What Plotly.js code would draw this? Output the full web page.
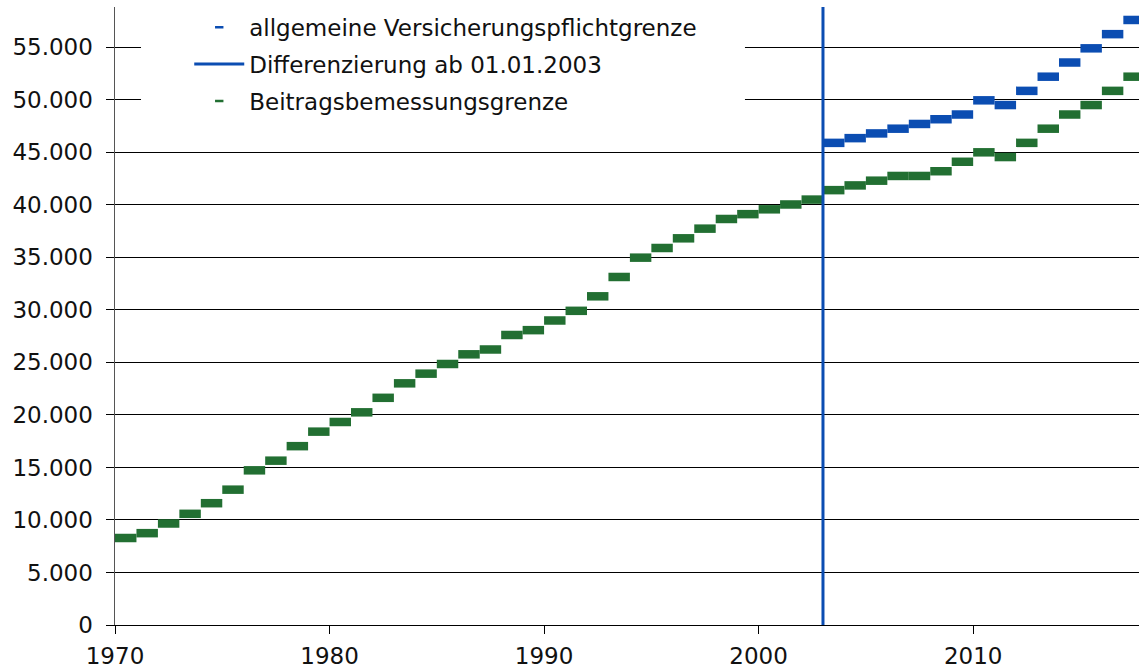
<!DOCTYPE html>
<html>
<head>
<meta charset="utf-8">
<script src="https://cdn.plot.ly/plotly-3.0.1.min.js"></script>
<style>html,body{margin:0;padding:0;background:#fff;}#chart{width:1139px;height:672px;}</style>
</head>
<body>
<div id="chart"></div>
<script>
// Jahre (Beitragsbemessungsgrenze, 1970-2017)
const jahreBBG = [1970,1971,1972,1973,1974,1975,1976,1977,1978,1979,1980,1981,1982,1983,1984,1985,1986,1987,1988,1989,1990,1991,1992,1993,1994,1995,1996,1997,1998,1999,2000,2001,2002,2003,2004,2005,2006,2007,2008,2009,2010,2011,2012,2013,2014,2015,2016,2017];
// Beitragsbemessungsgrenze in Euro pro Jahr
const beitragsbemessungsgrenze = [8283,8743,9663,10584,11596,12885,14725,15645,17026,18407,19327,20247,21628,23008,23928,24849,25769,26229,27610,28070,28990,29910,31291,33132,34972,35892,36813,37733,38654,39114,39574,40034,40500,41400,41850,42300,42750,42750,43200,44100,45000,44550,45900,47250,48600,49500,50850,52200];
// Jahre (allgemeine Versicherungspflichtgrenze, ab 2003)
const jahreVPG = [2003,2004,2005,2006,2007,2008,2009,2010,2011,2012,2013,2014,2015,2016,2017];
const versicherungspflichtgrenze = [45900,46350,46800,47250,47700,48150,48600,49950,49500,50850,52200,53550,54900,56250,57600];
const differenzierungJahr = 2003;
const yTicks = [0,5000,10000,15000,20000,25000,30000,35000,40000,45000,50000,55000];
const xTicks = [1970,1980,1990,2000,2010];
const yMax = 58835;
const xMin = 1970, xMax = 2017.73;

const blau = '#0b4db2';
const gruen = '#226f32';

function stufen(jahre, werte) {
  const x = [], y = [];
  jahre.forEach((j, i) => { x.push(j, j + 1, null); y.push(werte[i], werte[i], null); });
  return {x, y};
}
const sB = stufen(jahreBBG, beitragsbemessungsgrenze);
const sV = stufen(jahreVPG, versicherungspflichtgrenze);

const traces = [
  {x: sB.x, y: sB.y, mode: 'lines', line: {color: gruen, width: 8.5}, showlegend: false, hoverinfo: 'skip'},
  {x: sV.x, y: sV.y, mode: 'lines', line: {color: blau, width: 8.5}, showlegend: false, hoverinfo: 'skip'},
  {x: [differenzierungJahr, differenzierungJahr], y: [0, yMax], mode: 'lines', line: {color: blau, width: 3}, showlegend: false, hoverinfo: 'skip'},
  {x: [null], y: [null], mode: 'markers', name: 'allgemeine Versicherungspflichtgrenze', legendgroup: 'a', marker: {symbol: 'line-ew', size: 6, color: blau, line: {color: blau, width: 2.5}}},
  {x: [null], y: [null], mode: 'lines', name: 'Differenzierung ab 01.01.2003', legendgroup: 'b', line: {color: blau, width: 3}},
  {x: [null], y: [null], mode: 'markers', name: 'Beitragsbemessungsgrenze', legendgroup: 'c', marker: {symbol: 'line-ew', size: 6, color: gruen, line: {color: gruen, width: 2.5}}}
];

const layout = {
  width: 1139, height: 672,
  margin: {l: 115, r: 0, t: 7, b: 47, pad: 0, autoexpand: false},
  paper_bgcolor: '#fff', plot_bgcolor: '#fff',
  font: {family: '"DejaVu Sans", Verdana, sans-serif', size: 23, color: '#111'},
  separators: ',.',
  showlegend: true,
  legend: {x: 0.0725, y: 1.002, xanchor: 'left', yanchor: 'top', bgcolor: 'rgba(0,0,0,0)', borderwidth: 0,
           font: {size: 23, color: '#111'}, traceorder: 'grouped', tracegroupgap: 4, itemwidth: 50},
  shapes: [{type: 'rect', xref: 'paper', yref: 'paper', x0: 0.0254, x1: 0.6152, y0: 0.809, y1: 1,
            fillcolor: '#fff', line: {width: 0}, layer: 'above'}],
  xaxis: {range: [xMin, xMax], tickvals: xTicks, ticktext: xTicks.map(String), ticks: 'outside', ticklen: 8, tickcolor: '#000',
          showline: true, linecolor: '#000', linewidth: 1, showgrid: false, zeroline: false, ticklabelstandoff: 2, fixedrange: true},
  yaxis: {range: [0, yMax], tickvals: yTicks, tickformat: ',d', ticks: 'outside', ticklen: 8, tickcolor: '#000',
          showline: true, linecolor: '#555', linewidth: 1.5, showgrid: true, gridcolor: '#000', gridwidth: 1, zeroline: false,
          ticklabelstandoff: 8, fixedrange: true}
};

Plotly.newPlot('chart', traces, layout, {displayModeBar: false, staticPlot: true});
</script>
</body>
</html>
